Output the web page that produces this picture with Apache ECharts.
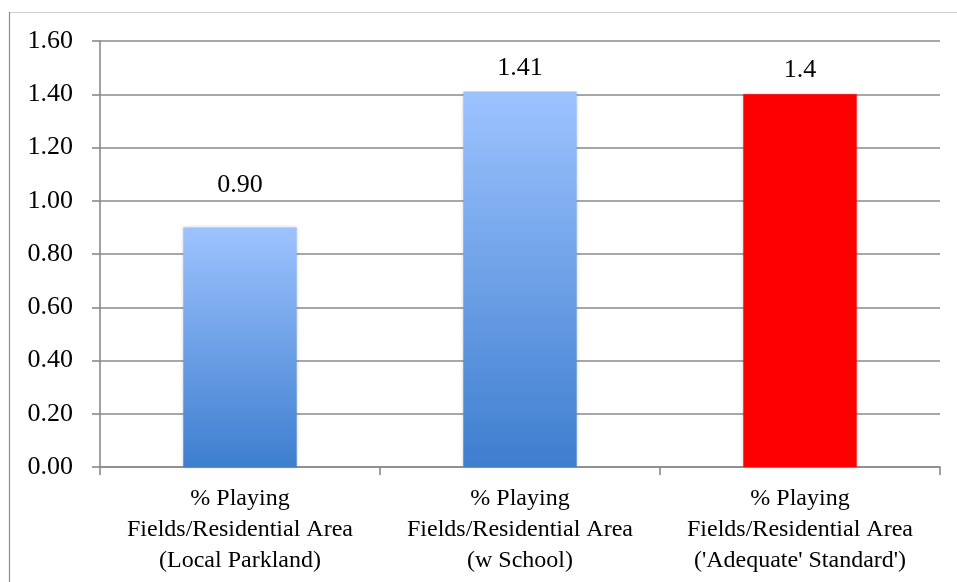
<!DOCTYPE html>
<html>
<head>
<meta charset="utf-8">
<script src="https://cdn.jsdelivr.net/npm/echarts@6/dist/echarts.min.js"></script>
<style>
  html, body { margin: 0; padding: 0; background: #fff; }
  #chart { width: 957px; height: 582px; }
</style>
</head>
<body>
<div id="chart"></div>
<script>
// Playing-field ratio per residential area
const categories = [
  '% Playing\nFields/Residential Area\n(Local Parkland)',
  '% Playing\nFields/Residential Area\n(w School)',
  '% Playing\nFields/Residential Area\n(\'Adequate\' Standard\')'
];
const values = [0.90, 1.41, 1.4];
const valueLabels = ['0.90', '1.41', '1.4'];
const yTicks = [0, 0.2, 0.4, 0.6, 0.8, 1.0, 1.2, 1.4, 1.6];

const FONT = 'Liberation Serif';
const LINE = '#8a8a8a';
const blueGradient = new echarts.graphic.LinearGradient(0, 0, 0, 1, [
  { offset: 0, color: '#9dc3fe' },
  { offset: 1, color: '#3e7ecf' }
]);
const barColors = [blueGradient, blueGradient, '#ff0000'];
const labelGaps = [29, 10, 11];

const chart = echarts.init(document.getElementById('chart'), null, { renderer: 'canvas' });
chart.setOption({
  animation: false,
  backgroundColor: '#ffffff',
  grid: { left: 100, right: 17, top: 41, bottom: 115, containLabel: false },
  graphic: [
    { type: 'line', shape: { x1: 9, y1: 12.5, x2: 957, y2: 12.5 }, style: { stroke: '#d0d0d0', lineWidth: 1 } },
    { type: 'line', shape: { x1: 9.5, y1: 12, x2: 9.5, y2: 582 }, style: { stroke: '#8c8c8c', lineWidth: 1.2 } }
  ],
  xAxis: {
    type: 'category',
    data: categories,
    boundaryGap: true,
    axisLine: { show: true, lineStyle: { color: LINE, width: 1.6 } },
    axisTick: { show: true, length: 8, alignWithLabel: false, lineStyle: { color: LINE, width: 1.6 } },
    axisLabel: {
      interval: 0,
      margin: 16,
      fontFamily: FONT,
      fontSize: 24,
      lineHeight: 31,
      color: '#000'
    },
    splitLine: { show: false }
  },
  yAxis: {
    type: 'value',
    min: yTicks[0],
    max: yTicks[yTicks.length - 1],
    interval: 0.2,
    axisLine: { show: true, lineStyle: { color: LINE, width: 1.6 } },
    axisTick: { show: true, length: 8, inside: false, lineStyle: { color: LINE, width: 1.6 } },
    axisLabel: {
      margin: 27,
      fontFamily: FONT,
      fontSize: 26,
      color: '#000',
      formatter: v => v.toFixed(2)
    },
    splitLine: { show: true, lineStyle: { color: LINE, width: 1.6 } }
  },
  series: [{
    type: 'bar',
    barWidth: '40.5%',
    data: values.map((v, i) => ({
      value: v,
      itemStyle: {
        color: barColors[i],
        shadowBlur: 3,
        shadowColor: 'rgba(0,0,0,0.18)'
      },
      label: { formatter: valueLabels[i], distance: labelGaps[i] }
    })),
    label: {
      show: true,
      position: 'top',
      fontFamily: FONT,
      fontSize: 26,
      color: '#000'
    }
  }]
});
</script>
</body>
</html>
